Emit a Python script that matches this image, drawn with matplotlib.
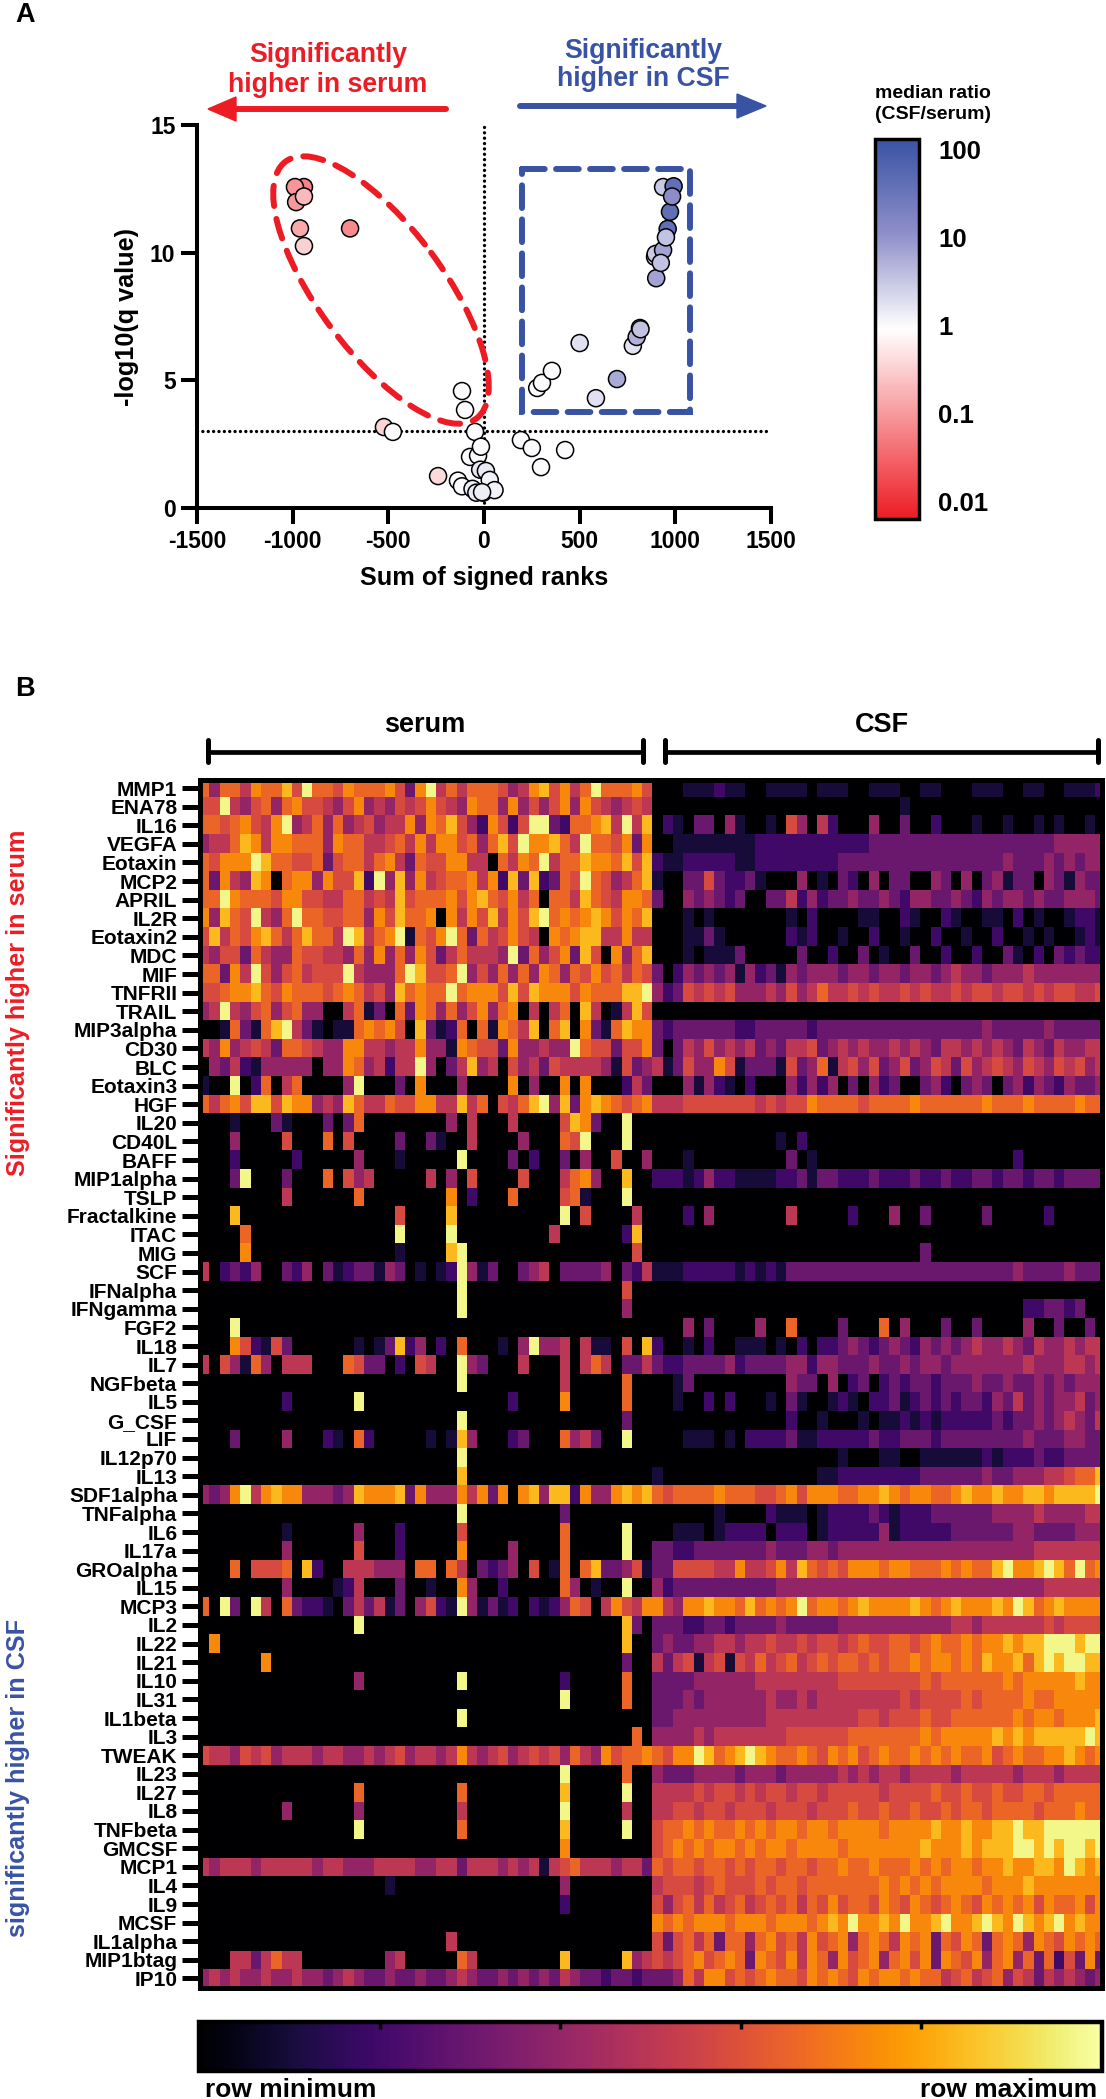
# %%

import numpy as np
import matplotlib
matplotlib.use('Agg')
import matplotlib.pyplot as plt
from matplotlib.cm import ScalarMappable
from matplotlib.colors import LinearSegmentedColormap, LogNorm
from matplotlib.patches import Ellipse, Rectangle

plt.rcParams['font.family'] = ['Liberation Sans', 'DejaVu Sans']
plt.rcParams['font.weight'] = 'bold'
plt.rcParams['axes.unicode_minus'] = False

# panel A
rank_sum = [-941, -988, -982, -941, -962, -941, -700, -240, -523, -476,
            -115, -99, -47, -136, -115, -73, -31, -16, -60, -20, -5, 10, 30, 55, -40, -10,
            193, 250, 298, 424,
            278, 303, 355, 500, 585, 695, 778, 798, 815, 818, 900, 894, 897, 936, 924, 960, 951, 972, 936, 991, 983]
log_q = [12.57, 12.57, 11.98, 12.2, 10.95, 10.26, 10.95, 1.25, 3.17, 2.98,
         4.58, 3.84, 2.98, 1.07, 0.85, 2.0, 2.05, 2.4, 0.75, 1.5, 0.6, 1.45, 1.1, 0.7, 0.6, 0.62,
         2.66, 2.35, 1.6, 2.27,
         4.7, 4.9, 5.37, 6.46, 4.3, 5.05, 6.35, 6.7, 7.05, 7.0, 9.0, 9.83, 9.95, 10.1, 9.6, 10.93, 10.6, 11.6, 12.57, 12.6, 12.2]
median_ratio = [.06, .09, .1, .2, .14, .33, .07, .4, .35, 1.0,
                1, 1, 1, 1, 1, 1, 1, 1, 1.3, 1.5, 1.5, 1.4, 1.2, 1.2, 1.4, 1.3,
                1, 1, 1, 1,
                1, 1, 1, 1.8, 1.8, 6, 1.7, 5, 0.9, 3.5, 7, 3, 3, 7, 3.5, 40, 3.5, 40, 3, 40, 12]

ratio_ticks = [100, 10, 1, 0.1, 0.01]
ratio_labels = ['100', '10', '1', '0.1', '0.01']

# panel B
cytokines = ['MMP1', 'ENA78', 'IL16', 'VEGFA', 'Eotaxin', 'MCP2', 'APRIL', 'IL2R', 'Eotaxin2', 'MDC', 'MIF',
             'TNFRII', 'TRAIL', 'MIP3alpha', 'CD30', 'BLC', 'Eotaxin3', 'HGF', 'IL20', 'CD40L', 'BAFF',
             'MIP1alpha', 'TSLP', 'Fractalkine', 'ITAC', 'MIG', 'SCF', 'IFNalpha', 'IFNgamma', 'FGF2', 'IL18',
             'IL7', 'NGFbeta', 'IL5', 'G_CSF', 'LIF', 'IL12p70', 'IL13', 'SDF1alpha', 'TNFalpha', 'IL6', 'IL17a',
             'GROalpha', 'IL15', 'MCP3', 'IL2', 'IL22', 'IL21', 'IL10', 'IL31', 'IL1beta', 'IL3', 'TWEAK', 'IL23',
             'IL27', 'IL8', 'TNFbeta', 'GMCSF', 'MCP1', 'IL4', 'IL9', 'MCSF', 'IL1alpha', 'MIP1btag', 'IP10']

# 0 (row minimum) to a (row maximum), one character per sample
serum_rows = [
    '7477587796 a776877786 38a57577 7645896857 a77786',
    '66a5467478 6654684546 56865487 7484646848 654565',
    '7767865 8a4 5747456455 84879642 8626aa3277 895a59',
    '4557985887 7748775567 58588674 796a88975a 776838',
    '76888a9776 6736775785 37668855 07587a5779 887969',
    '7385498078 84866 92a49 48567785 82939237 6a 764579',
    '77a8777688 6655775659 67778689 7685707759 765887',
    '84976a547a 7766774869 77808586 9586 9a7878 986879',
    '6957689757 9775a95 78a 17 68a737 568650 8 78 995585',
    '5466375447 6655474847 48635755 54a3746839 608479',
    '77385a6467 5666a54447 a9667a464 7474874768 675768',
    '6678897687 7767875649 7877a788 8696988868 777 99a',
    '45a5467467 4400571307 38747468 4780505709 501596',
    '0017317 9a5 3101178786 09312707 1875907908 317988',
    '5484565377 6544885545 58441876 6384454 4a7 663668',
    '0435214444 4044874525 5a403594 5064536555 541634',
    '100a027057 0000 4a0003 08000400 0080400808 000253',
    '7578699698 8454975576 68855957 0657 9a4938 987678',
    '0001000310 0030370000 00004050 0050000698 300a00',
    '0004000060 0070600003 00310050 000400076a 000a00',
    '0002000002 0000040001 00000a00 0030200304 006004',
    '0003a00030 0070645000 00504060 0006000578 400900',
    '0000000050 0000070000 00008020 0070000671 000a00',
    '0009000000 0000000006 00009000 0000000a06 000050',
    '0000700000 000000000a 0000a000 0000005000 000290',
    '0000800000 0000000001 00009a00 0000000000 000060',
    '5023240032 4031233143 01012a41 3003450333 340325',
    '0000000000 0000000000 00000a00 0000000000 000600',
    '0000000000 0000000000 00000a00 0000000000 000400',
    '000a000000 0000000000 00000000 0000000000 000000',
    '0008621630 0000010139 24020700 0104a44505 110609',
    '5064174055 5000763302 0650 0a43 0005000505 750335',
    '0000000000 0000000000 00000a00 0000000500 000700',
    '0000000020 00000a0000 00000000 0020000800 000700',
    '0000000000 0000000000 00000a00 0000000000 000300',
    '0003000040 0021072000 00101940 0023000745 300a00',
    '0000000000 0000000000 00000a00 0000000000 000000',
    '0000000000 0000000000 00000900 0000000000 000000',
    '4348a58988 4443498889 38444858 3808949928 448989',
    '0000000000 0000000000 00000a00 0000000300 000000',
    '0000000010 0000040002 00000600 0000000700 000a00',
    '0000000040 0000060002 00000800 0040000700 000a00',
    '0007066670 9200555444 07707503 2340601707 933461',
    '0000000040 0001250003 00100840 0200000740 100a00',
    '70a30a5073 2210353513 04621a41 3120212476 058658',
    '0000000000 00000a0000 00000000 0000000000 000930',
    '0800000000 0000000000 00000000 0000000000 000900',
    '0000008000 0000000000 00000000 0000000000 000300',
    '0000000000 0000040000 00000a00 0000000200 000700',
    '0000000000 0000000000 00000000 0000000a00 000700',
    '0000000000 0000000000 00000a00 0000000000 000000',
    '0000000000 0000000000 00000000 0000000000 000070',
    '6554656455 5455445456 45545854 5645656475 486778',
    '0000000000 0000000000 00000000 0000000a00 000700',
    '0000000000 0000070000 00000700 0000000900 000a00',
    '0000000040 0000040000 00000500 0000000a00 000500',
    '0000000000 00000a0000 00000700 0000000900 000a00',
    '0000000000 0000000000 00000000 0000000800 000000',
    '5455545555 5455444555 54455355 5454515675 554553',
    '0000000000 0000000010 00000000 0000000400 000000',
    '0000000000 0000000000 00000000 0000000200 000000',
    '0000000000 0000000000 00000000 0000000000 000000',
    '0000000000 0000000000 00005000 0000000000 000000',
    '0005535755 0000000045 00000750 0000000900 000945',
    '4545445445 4434543343 34334543 3434343543 323323',
]

csf_rows = [
    '0001112110 0111101110 0111001100 0111001100 1112',
    '0000000000 0000000000 0000100000 0000000000 0000',
    '0210330410 0106405200 0400300200 0100100101 0010',
    '0011111111 2222222222 2333333333 3333333334 4444',
    '2112222211 2222222233 3333333333 3333433343 4344',
    '1003363223 1000401032 0403300430 4034133043 1433',
    '3004343230 0335242334 3343244334 3243443433 4443',
    '0001010000 0001020000 1100210021 0011020100 1221',
    '0001131000 0002120010 0200100200 1002001010 0121',
    '0001011130 0000300200 3010030020 0200310203 2322',
    '3024343414 2314344434 4344344345 4434445444 4444',
    '4236565644 4546457556 5655656556 5665665656 6556',
    '0000000000 0000000000 0000000000 0000000000 0000',
    '3233333322 3333323333 3333333333 3343333343 3333',
    '3035464545 3435563454 5445454355 4545435435 4455',
    '5136448613 3316347156 4634634653 6456546546 5645',
    '0004142102 0004242403 0423003420 3430342432 4334',
    '5556666666 5656687777 6777787777 7787778777 7877',
    '0000000000 0000000000 0000000000 0000000000 0000',
    '0000000000 0010200000 0000000000 0000000000 0000',
    '0001000000 0003010000 0000000000 0000020000 0000',
    '2221242211 1122313322 2322232232 2332332332 3333',
    '0000000000 0000000000 0000000000 0000000000 0000',
    '0002040000 0005000002 0004003000 0030000020 0000',
    '0000000000 0000000000 0000000000 0000000000 0000',
    '0000000000 0000000000 0000003000 0000000000 0000',
    '1112222212 1213333333 3333333333 3333343333 4333',
    '0000000000 0000000000 0000000000 0000000000 0000',
    '0000000000 0000000000 0000000000 0000002233 2300',
    '0004030000 4007000030 0070400030 0300004003 0030',
    '2001020011 1010202234 3234324343 4544543544 5455',
    '3223333423 3334424433 3433434434 4444445444 5545',
    '0013000000 0004330402 3023233233 3433433434 3444',
    '0010020200 0103100121 0223123232 3324353434 4534',
    '0000000000 0002001000 1011212122 2223233434 5435',
    '0001110102 2223112222 2322333233 3333334333 4433',
    '0000000000 0000000010 0011001111 1121222322 3333',
    '1000000000 0000001122 2222223333 3343344455 6779',
    '7677778777 6678688877 8898788778 9889889989 999a',
    '0000001000 0211101222 2321222333 3334444544 4455',
    '0011101222 2022201222 2241222223 3333344333 3444',
    '3322333333 3433344344 4444444444 4444444555 5555',
    '3366665585 5685976768 8878877787 8779a889a9 7a78',
    '4233333333 3344444444 4444444444 4444444455 5555',
    '8548898879 7878a78878 9888898789 8889 8a9789 8888',
    '3332233233 3343333344 4444444445 5455555565 6666',
    '3433445545 5655656656 7667767877 8788989 9aa a9aa',
    '5356156165 7567567677 6767787887 8798897 9a9 aa99',
    '3333444444 5555555566 6666667677 7777878888 8988',
    '3334344444 4544545555 5555656666 7677778778 8888',
    '3344444444 4555555555 6656667667 7777787887 8889',
    '4444545555 5556666667 7777778788 8889898999 99a9',
    '768 8a978 9a 9877 8768 78 6787787 8787 7867 8778 8 9878',
    '4333444434 4434444454 5455455554 5555545554 5555',
    '5555656656 5665665666 6656666766 7667667767 7777',
    '5566566566 6566656667 6676676676 7767777677 7877',
    '6778787787 8788788788 8878888988 9889 9a99aa aaaa',
    '6787878878 7887888878 8888889888 9899 9aa9a9 aa9a',
    '7677677676 7767767787 7877787878 8788988998 a989',
    '5666567666 7677677777 7787878788 8878889888 8888',
    '6467575675 6767576867 7687687678 7687878687 7868',
    '8787888788 8788878 98a 8898a889a8 89a98a989a 8988',
    '6367573774 7867586784 7875878376 8737874876 8787',
    '6567867873 8768587486 7847868387 6847847372 6383',
    '3347588676 7877687876 8788787756 7567465354 5434',
]


def clean(row):
    row = row.replace(' ', '')
    return row.ljust(44, row[-1])[:44]


# characters to positions on the colour scale
levels = dict(zip('0123456789a', [0, .1, .2, .3, .4, .5, .58, .66, .74, .84, .97]))
heat = np.array([[levels[c] for c in clean(s) + clean(m)] for s, m in zip(serum_rows, csf_rows)])

RED = '#ed1c24'
BLUE = '#3953a4'
W, H = 1106, 2099
fig = plt.figure(figsize=(W / 100, H / 100), dpi=100)


def px_axes(left, top, right, bottom, **kw):
    return fig.add_axes([left / W, 1 - bottom / H, (right - left) / W, (bottom - top) / H], **kw)


# %% volcano plot

ax = px_axes(197, 125, 771, 508)
ratio_cmap = LinearSegmentedColormap.from_list('ratio', [(0, RED), (.5, '#ffffff'), (.75, '#8f8fca'), (1, BLUE)])
ratio_norm = LogNorm(vmin=0.0063, vmax=130)

ax.axvline(0, color='black', lw=2.4, linestyle=(0, (0.01, 1.6)), dash_capstyle='round', zorder=1)
ax.axhline(3, color='black', lw=2.4, linestyle=(0, (0.01, 1.6)), dash_capstyle='round', zorder=1)
ax.scatter(rank_sum, log_q, c=median_ratio, cmap=ratio_cmap, norm=ratio_norm, s=150,
           edgecolors='black', linewidths=1.1, zorder=3, clip_on=False)

ax.set_xlim(-1500, 1500)
ax.set_ylim(0, 15)
ax.set_xticks([-1500, -1000, -500, 0, 500, 1000, 1500])
ax.set_yticks([0, 5, 10, 15])
ax.tick_params(length=11.5, width=2.9, labelsize=16.5, pad=4)
for side in ['top', 'right']:
    ax.spines[side].set_visible(False)
for side in ['left', 'bottom']:
    ax.spines[side].set_linewidth(2.9)
ax.set_xlabel('Sum of signed ranks', fontsize=18.2, fontweight='bold', labelpad=10)
ax.set_ylabel('-log10(q value)', fontsize=18.2, fontweight='bold', labelpad=8)

cax = px_axes(875, 139, 919, 519)
cb = fig.colorbar(ScalarMappable(norm=ratio_norm, cmap=ratio_cmap), cax=cax)
cb.set_ticks(ratio_ticks, labels=ratio_labels)
cb.minorticks_off()
cax.tick_params(length=0, labelsize=18.5, pad=14)
cb.outline.set_linewidth(2.5)

# %% heatmap

hm = px_axes(199.5, 779.5, 1102, 1988)
hm.imshow(heat, cmap='inferno', vmin=0, vmax=1, aspect='auto', interpolation='nearest')
hm.set_xlim((199.5 - 203.85) / 10.295, (1102 - 203.85) / 10.295)
hm.set_ylim((1988 - 788) / 18.6, (779.5 - 788) / 18.6)
hm.set_xticks([])
hm.set_yticks(range(len(cytokines)), labels=cytokines)
hm.tick_params(axis='y', length=13, width=3.6, labelsize=15, pad=3)
for spine in hm.spines.values():
    spine.set_linewidth(3.6)

bar = px_axes(199, 2022, 1102, 2071)
cb2 = fig.colorbar(ScalarMappable(cmap='inferno'), cax=bar, orientation='horizontal')
cb2.set_ticks([0.2, 0.4, 0.6, 0.8])
bar.xaxis.set_ticks_position('top')
bar.tick_params(direction='in', length=5, width=2.5, labeltop=False)
cb2.outline.set_linewidth(3.2)

# %% labels and shapes, in picture pixels

ov = fig.add_axes([0, 0, 1, 1], zorder=10)
ov.set_xlim(0, W)
ov.set_ylim(H, 0)
ov.axis('off')
ov.patch.set_alpha(0)

ov.text(15, 15, 'A', fontsize=19.5, va='center')
ov.text(15, 689, 'B', fontsize=19.5, va='center')

ov.text(328, 70, 'Significantly\nhigher in serum', color=RED, fontsize=19.2, ha='center', va='center', linespacing=1.15)
ov.text(643, 65, 'Significantly\nhigher in CSF', color=BLUE, fontsize=19.2, ha='center', va='center', linespacing=1.15)

ov.plot([446, 232], [109, 109], color=RED, lw=4.3, solid_capstyle='round')
ov.fill([208, 236, 236], [109, 97, 121], color=RED)
ov.plot([520, 740], [106, 106], color=BLUE, lw=4.3, solid_capstyle='round')
ov.fill([766, 737, 737], [106, 94, 118], color=BLUE)

ov.add_patch(Ellipse((381, 290), 320, 125, angle=53.4, fill=False, edgecolor=RED, lw=4.3,
                     linestyle=(0, (3.4, 2.2)), capstyle='round'))
ov.add_patch(Rectangle((522, 169), 168, 243, fill=False, edgecolor=BLUE, lw=4.3,
                       linestyle=(0, (3.8, 1.9)), capstyle='round'))

ov.text(933, 104, 'median ratio\n(CSF/serum)', fontsize=14, ha='center', va='center', linespacing=1.3)

ov.text(425, 725, 'serum', fontsize=19.5, ha='center', va='center')
ov.text(882, 725, 'CSF', fontsize=19.5, ha='center', va='center')
for x0, x1 in [(208, 643), (665, 1098)]:
    ov.plot([x0, x1], [752, 752], color='black', lw=3.4)
    ov.plot([x0, x0], [740, 762], color='black', lw=3.6, solid_capstyle='round')
    ov.plot([x1, x1], [740, 762], color='black', lw=3.6, solid_capstyle='round')

ov.text(18, 1003, 'Significantly higher in serum', color=RED, fontsize=18.2, rotation=90, ha='center', va='center')
ov.text(18, 1778, 'significantly higher in CSF', color=BLUE, fontsize=18.2, rotation=90, ha='center', va='center')

ov.text(205, 2097, 'row minimum', fontsize=19, ha='left', va='baseline')
ov.text(1097, 2097, 'row maximum', fontsize=19, ha='right', va='baseline')

fig.savefig('out.png', dpi=100)
